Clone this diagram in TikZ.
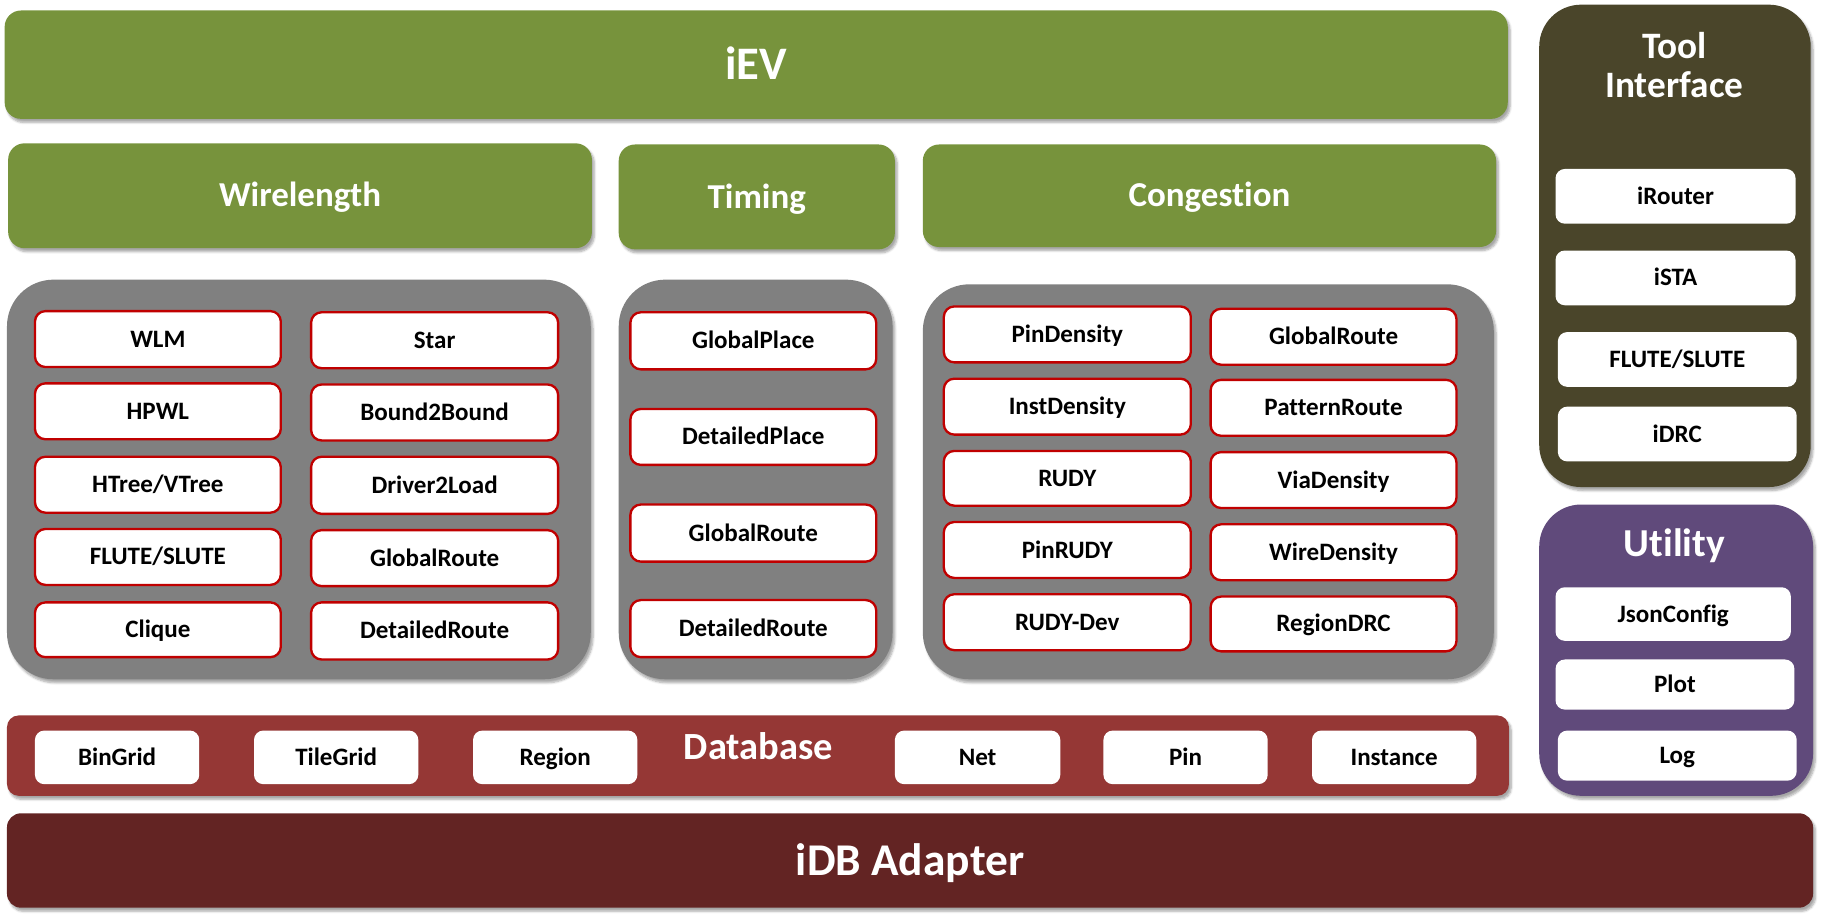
\documentclass[tikz,border=0pt]{standalone}
\usepackage{fontspec}
\setmainfont{Carlito}[Ligatures=NoCommon]
\usetikzlibrary{shadows.blur}
\definecolor{evgreen}{HTML}{77933C}
\definecolor{panelgray}{HTML}{808080}
\definecolor{tooldark}{HTML}{4A452A}
\definecolor{utilpurple}{HTML}{604A7B}
\definecolor{dbred}{HTML}{953735}
\definecolor{idbred}{HTML}{632423}
\definecolor{boxred}{HTML}{C00000}
\tikzset{
  fs/.style 2 args={font=\fontsize{#1}{#1}\selectfont\bfseries,text height=#2,text depth=0pt},
  shad/.style={blur shadow={shadow xshift=2pt,shadow yshift=-3pt,shadow blur steps=6,shadow opacity=35}},
  layer/.style={shad,inner sep=0pt,text=white,font=\bfseries},
  greenbar/.style={layer,fill=evgreen,rounded corners=14pt},
  panel/.style={shad,fill=panelgray,rounded corners=40pt,inner sep=0pt},
  item/.style={fill=white,draw=boxred,line width=2pt,rounded corners=9pt,inner sep=0pt,fs={21.5}{13.8pt}},
  plain/.style={fill=white,rounded corners=8pt,inner sep=0pt,fs={21.5}{13.8pt}},
}
\newcommand{\bx}[7]{\node[#1,minimum width={(#5)-(#3)},minimum height={(#6)-(#4)}] (#2) at ({((#3)+(#5))/2},{((#4)+(#6))/2}) {#7};}
\begin{document}
\begin{tikzpicture}[x=1pt,y=-1pt]
\useasboundingbox (0,0) rectangle (1568,791);
% iEV
\bx{greenbar,fs={40}{25.7pt}}{iev}{4}{9}{1294}{102}{iEV}
\bx{greenbar,fs={30}{19.3pt}}{wl}{7}{123}{508}{213}{Wirelength}
\bx{greenbar,fs={30}{19.3pt}}{tm}{531}{124}{768}{214}{Timing}
\bx{greenbar,fs={30}{19.3pt}}{cg}{792}{124}{1284}{212}{Congestion}
% Tool interface
\bx{layer,fill=tooldark,rounded corners=36pt}{tool}{1321}{4}{1554}{418}{}
\node[text=white,font=\fontsize{32}{34}\selectfont\bfseries,align=center] (tooltitle) at (1437,56) {Tool\\Interface};
\bx{plain}{irouter}{1335}{145}{1541}{192}{iRouter}
\bx{plain}{ista}{1335}{215}{1541}{262}{iSTA}
\bx{plain}{flute}{1337}{285}{1542}{332}{FLUTE/SLUTE}
\bx{plain}{idrc}{1337}{349}{1542}{396}{iDRC}
% Utility
\bx{layer,fill=utilpurple,rounded corners=36pt}{util}{1321}{433}{1556}{683}{}
\node[text=white,fs={34}{21.9pt}] (utiltitle) at (1437,467) {Utility};
\bx{plain}{json}{1335}{504}{1537}{550}{JsonConfig}
\bx{plain}{plot}{1335}{566}{1540}{609}{Plot}
\bx{plain}{log}{1337}{627}{1542}{670}{Log}
% Wirelength panel
\bx{panel}{wlp}{6}{240}{507}{583}{}
\bx{item}{wlm}{30}{267}{241}{315}{WLM}
\bx{item}{hpwl}{30}{329}{241}{377}{HPWL}
\bx{item}{htree}{30}{392}{241}{440}{HTree/VTree}
\bx{item}{flutew}{30}{454}{241}{502}{FLUTE/SLUTE}
\bx{item}{clique}{30}{517}{241}{564}{Clique}
\bx{item}{star}{267}{268}{479}{316}{Star}
\bx{item}{b2b}{267}{330}{479}{378}{Bound2Bound}
\bx{item}{d2l}{267}{392}{479}{441}{Driver2Load}
\bx{item}{grw}{267}{455}{479}{503}{GlobalRoute}
\bx{item}{drw}{267}{517}{479}{566}{DetailedRoute}
% Timing panel
\bx{panel}{tmp}{531}{240}{766}{583}{}
\bx{item}{gp}{541}{268}{752}{317}{GlobalPlace}
\bx{item}{dp}{541}{351}{752}{399}{DetailedPlace}
\bx{item}{grt}{541}{433}{752}{482}{GlobalRoute}
\bx{item}{drt}{541}{515}{752}{564}{DetailedRoute}
% Congestion panel
\bx{panel}{cgp}{792}{244}{1282}{583}{}
\bx{item}{pind}{810}{263}{1022}{311}{PinDensity}
\bx{item}{instd}{810}{325}{1022}{373}{InstDensity}
\bx{item}{rudy}{810}{387}{1022}{434}{RUDY}
\bx{item}{pinrudy}{810}{448}{1022}{496}{PinRUDY}
\bx{item}{rudydev}{810}{510}{1022}{558}{RUDY-Dev}
\bx{item}{grc}{1039}{265}{1250}{313}{GlobalRoute}
\bx{item}{pr}{1039}{326}{1250}{374}{PatternRoute}
\bx{item}{via}{1039}{388}{1250}{436}{ViaDensity}
\bx{item}{wire}{1039}{450}{1250}{498}{WireDensity}
\bx{item}{rdrc}{1039}{512}{1250}{559}{RegionDRC}
% Database
\bx{layer,fill=dbred,rounded corners=10pt}{db}{6}{614}{1295}{683}{}
\node[text=white,fs={33}{21.3pt}] (dbtitle) at (651,641) {Database};
\bx{plain}{bingrid}{30}{627}{171}{673}{BinGrid}
\bx{plain}{tilegrid}{218}{627}{359}{673}{TileGrid}
\bx{plain}{region}{406}{627}{547}{673}{Region}
\bx{plain}{net}{768}{627}{910}{673}{Net}
\bx{plain}{pin}{947}{627}{1088}{673}{Pin}
\bx{plain}{inst}{1126}{627}{1267}{673}{Instance}
% iDB Adapter
\bx{layer,fill=idbred,rounded corners=12pt,fs={39}{25.1pt}}{idb}{6}{698}{1556}{779}{iDB Adapter}
\end{tikzpicture}
\end{document}
